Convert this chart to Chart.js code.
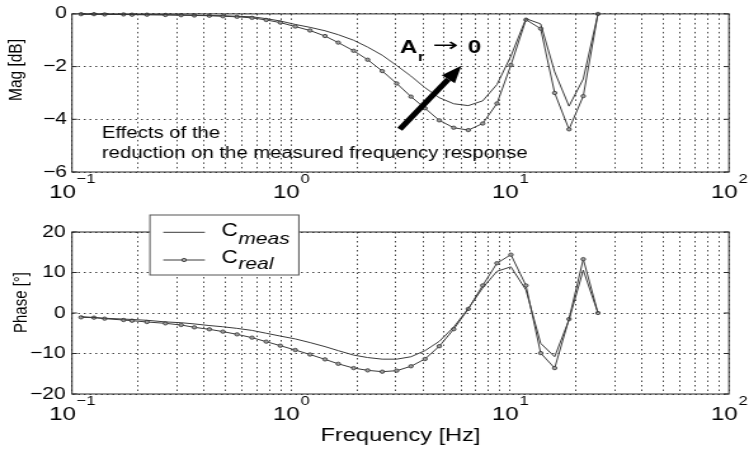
<!DOCTYPE html>
<html>
<head>
<meta charset="utf-8">
<title>Bode plot - C meas / C real</title>
<script src="https://cdn.jsdelivr.net/npm/chart.js@4"></script>
<style>
    html, body { margin: 0; padding: 0; background: #fff; overflow: hidden; }
    /* canvases are drawn narrower and stretched sideways, like the printed figure */
    .panel { position: absolute; left: 0; width: 749px !important; }
    #magChart { top: 0; height: 200px !important; }
    #phaseChart { top: 200px; height: 250px !important; }
</style>
</head>
<body>
<canvas id="magChart" class="panel" width="590" height="200"></canvas>
<canvas id="phaseChart" class="panel" width="590" height="250"></canvas>
<script>
// --- DATA ---
const freqHz = [0.110, 0.126, 0.141, 0.172, 0.188, 0.220, 0.267, 0.315, 0.362, 0.424,
                0.489, 0.567, 0.664, 0.771, 0.894, 1.046, 1.221, 1.430, 1.644, 1.933,
                2.240, 2.612, 3.039, 3.532, 4.092, 4.756, 5.535, 6.451, 7.506, 8.722,
                10.10, 11.83, 13.81, 16.00, 18.60, 21.61, 25.22];

const magMeas = [-0.01, -0.01, -0.01, -0.02, -0.02, -0.03, -0.03, -0.04, -0.05, -0.06,
                 -0.07, -0.09, -0.11, -0.18, -0.27, -0.40, -0.51, -0.64, -0.79, -1.00,
                 -1.26, -1.57, -1.96, -2.36, -2.80, -3.18, -3.41, -3.48, -3.30, -2.68,
                 -1.60, -0.18, -0.38, -2.20, -3.50, -2.47, 0];
const magReal = [-0.01, -0.01, -0.02, -0.02, -0.03, -0.03, -0.04, -0.05, -0.06, -0.07,
                 -0.09, -0.11, -0.15, -0.23, -0.33, -0.48, -0.63, -0.84, -1.09, -1.40,
                 -1.74, -2.17, -2.64, -3.14, -3.58, -4.04, -4.32, -4.41, -4.16, -3.40,
                 -1.94, -0.22, -0.56, -3.00, -4.38, -3.12, 0];

const phaseMeas = [-0.9, -1.1, -1.3, -1.5, -1.6, -1.8, -2.2, -2.4, -2.7, -3.1,
                   -3.4, -3.8, -4.3, -5.0, -5.7, -6.4, -7.3, -8.3, -9.3, -10.4,
                   -11.0, -11.4, -11.4, -10.8, -9.3, -7.0, -3.5, 1.1, 6.2, 10.3,
                   11.4, 5.7, -7.5, -10.8, -1.7, 10.6, 0];
const phaseReal = [-1.07, -1.15, -1.4, -1.73, -1.9, -2.22, -2.55, -2.96, -3.54, -4.03,
                   -4.6, -5.27, -6.09, -7.08, -8.07, -9.14, -10.25, -11.45, -12.55, -13.6,
                   -14.16, -14.49, -14.24, -13.15, -11.36, -8.2, -4.0, 1.0, 6.8, 12.3,
                   14.4, 6.8, -9.9, -13.6, -1.5, 13.3, 0];

const decades = [0.1, 1, 10, 100];
const gridSteps = [1, 2, 3, 4, 5, 6, 7, 8, 9];
const magTicks = [0, -2, -4, -6];
const phaseTicks = [20, 10, 0, -10, -20];

// --- HELPERS ---
const FONT = '"Liberation Sans", Arial, Helvetica, sans-serif';
const INK = '#000';
const LINE = '#3a3a3a';

// every 1..9 x 10^n line of the log grid, plus the last decade
const gridValues = decades.slice(0, -1)
    .flatMap(d => gridSteps.map(k => +(d * k).toPrecision(3)))
    .concat(decades[decades.length - 1]);

const minusLabel = v => (v < 0 ? '\u2212' + Math.abs(v) : String(v));
const points = (xs, ys) => xs.map((x, i) => ({ x, y: ys[i] }));

function seriesStyle(withMarkers) {
    return {
        borderColor: LINE,
        borderWidth: 1,
        tension: 0,
        clip: false,
        pointRadius: withMarkers ? 1.7 : 0,
        pointStyle: 'circle',
        pointBackgroundColor: '#a0a0a0',
        pointBorderColor: '#303030',
        pointBorderWidth: 0.8
    };
}

function freqAxis(height) {
    return {
        type: 'logarithmic',
        min: decades[0],
        max: decades[decades.length - 1],
        afterBuildTicks: s => { s.ticks = gridValues.map(v => ({ value: v })); },
        afterFit: s => { s.height = height; },
        ticks: { display: false },
        grid: { color: '#444', lineWidth: 1, drawTicks: false },
        border: { display: false, dash: [1.5, 3] }
    };
}

function valueAxis(tickList, padding) {
    return {
        type: 'linear',
        min: Math.min(...tickList),
        max: Math.max(...tickList),
        afterBuildTicks: s => { s.ticks = tickList.map(v => ({ value: v })); },
        afterFit: s => { s.width = 56.7; },
        ticks: {
            padding: padding,
            color: INK,
            font: { family: FONT, size: 16.5 },
            callback: v => minusLabel(v)
        },
        grid: { color: '#444', lineWidth: 1, drawTicks: false },
        border: { display: false, dash: [1.5, 3] }
    };
}

// axes box, inward y ticks and 10^n labels under the frequency axis
function drawFrame(chart, yTicks) {
    const { ctx, chartArea: ca, scales } = chart;
    ctx.save();
    ctx.strokeStyle = '#2a2a2a';
    ctx.lineWidth = 1;
    ctx.strokeRect(ca.left, ca.top, ca.right - ca.left, ca.bottom - ca.top);
    ctx.beginPath();
    yTicks.forEach(v => {
        const y = scales.y.getPixelForValue(v);
        ctx.moveTo(ca.left, y); ctx.lineTo(ca.left + 4, y);
        ctx.moveTo(ca.right, y); ctx.lineTo(ca.right - 4, y);
    });
    ctx.stroke();

    ctx.fillStyle = INK;
    ctx.textBaseline = 'alphabetic';
    ctx.textAlign = 'left';
    const baseY = ca.bottom + 26;
    decades.forEach(d => {
        const exp = Math.round(Math.log10(d));
        const expText = minusLabel(exp);
        ctx.font = '19px ' + FONT;
        const w1 = ctx.measureText('10').width;
        ctx.font = '13px ' + FONT;
        const w2 = ctx.measureText(expText).width;
        const x0 = scales.x.getPixelForValue(d) - (w1 + w2) / 2;
        ctx.font = '19px ' + FONT;
        ctx.fillText('10', x0, baseY);
        ctx.font = '13px ' + FONT;
        ctx.fillText(expText, x0 + w1 + 0.5, baseY - 15);
    });
    ctx.restore();
}

function drawYTitle(ctx, text, x, y, size) {
    ctx.save();
    ctx.translate(x, y);
    ctx.rotate(-Math.PI / 2);
    ctx.fillStyle = INK;
    ctx.textAlign = 'center';
    ctx.textBaseline = 'alphabetic';
    ctx.font = size + 'px ' + FONT;
    ctx.fillText(text, 0, 0);
    ctx.restore();
}

// --- MAGNITUDE ---
const magDecor = {
    id: 'magDecor',
    afterDraw(chart) {
        const { ctx, scales: { x, y } } = chart;
        drawFrame(chart, magTicks);
        drawYTitle(ctx, 'Mag [dB]', 16.8, 70, 15.5);

        ctx.save();
        ctx.fillStyle = INK;
        ctx.textAlign = 'left';
        ctx.textBaseline = 'alphabetic';
        ctx.font = '16px ' + FONT;
        ctx.fillText('Effects of the', x.getPixelForValue(0.137), y.getPixelForValue(-4.70));
        ctx.fillText('reduction on the measured frequency response',
                     x.getPixelForValue(0.137), y.getPixelForValue(-5.48));

        // A_r -> 0
        const ax = x.getPixelForValue(3.14), ay = y.getPixelForValue(-1.48);
        ctx.font = 'bold 19px ' + FONT;
        ctx.fillText('A', ax, ay);
        const aw = ctx.measureText('A').width;
        ctx.font = 'bold 13px ' + FONT;
        ctx.fillText('r', ax + aw + 0.5, ay + 8);
        ctx.save();
        ctx.translate(x.getPixelForValue(4.43), y.getPixelForValue(-1.22));
        ctx.scale(1.35, 1);
        ctx.font = '18px "DejaVu Sans", ' + FONT;
        ctx.textBaseline = 'middle';
        ctx.fillText('\u2192', 0, 0);
        ctx.restore();
        ctx.font = 'bold 19px ' + FONT;
        ctx.fillText('0', x.getPixelForValue(6.42), ay);

        // thick arrow towards the reduced curve
        const x0 = x.getPixelForValue(3.14), y0 = y.getPixelForValue(-4.38);
        const x1 = x.getPixelForValue(6.0), y1 = y.getPixelForValue(-1.97);
        const ang = Math.atan2(y1 - y0, x1 - x0);
        const head = 17, half = 6.5;
        const bx = x1 - head * Math.cos(ang), by = y1 - head * Math.sin(ang);
        ctx.strokeStyle = '#000';
        ctx.lineWidth = 5;
        ctx.beginPath();
        ctx.moveTo(x0, y0);
        ctx.lineTo(bx, by);
        ctx.stroke();
        ctx.beginPath();
        ctx.moveTo(x1, y1);
        ctx.lineTo(bx + half * Math.sin(ang), by - half * Math.cos(ang));
        ctx.lineTo(bx - half * Math.sin(ang), by + half * Math.cos(ang));
        ctx.closePath();
        ctx.fillStyle = '#000';
        ctx.fill();
        ctx.restore();
    }
};

new Chart(document.getElementById('magChart'), {
    type: 'line',
    data: {
        datasets: [
            { label: 'C meas', data: points(freqHz, magMeas), ...seriesStyle(false) },
            { label: 'C real', data: points(freqHz, magReal), ...seriesStyle(true) }
        ]
    },
    options: {
        responsive: false,
        devicePixelRatio: 1,
        animation: false,
        events: [],
        layout: { autoPadding: false, padding: { left: 0, top: 10, right: 15.8, bottom: 0 } },
        scales: { x: freqAxis(28), y: valueAxis(magTicks, 4) },
        plugins: { legend: { display: false }, tooltip: { enabled: false } }
    },
    plugins: [magDecor]
});

// --- PHASE ---
const phaseDecor = {
    id: 'phaseDecor',
    afterDraw(chart) {
        const { ctx, chartArea: ca } = chart;
        drawFrame(chart, phaseTicks);
        drawYTitle(ctx, 'Phase [\u00b0]', 21, 102.5, 15);

        ctx.save();
        ctx.fillStyle = INK;
        ctx.textAlign = 'center';
        ctx.textBaseline = 'alphabetic';
        ctx.font = '18.6px ' + FONT;
        ctx.fillText('Frequency [Hz]', (ca.left + ca.right) / 2, 240.7);

        // legend box
        const bx = 118.1, by = 15, bw = 117.3, bh = 60;
        ctx.fillStyle = '#fff';
        ctx.fillRect(bx, by, bw, bh);
        ctx.strokeStyle = '#555';
        ctx.lineWidth = 1;
        ctx.strokeRect(bx, by, bw, bh);

        const rows = [
            { sub: 'meas', lineY: 32.3, cY: 36, subY: 44, marker: false },
            { sub: 'real', lineY: 60, cY: 63.3, subY: 68.5, marker: true }
        ];
        rows.forEach(r => {
            ctx.strokeStyle = LINE;
            ctx.beginPath();
            ctx.moveTo(128.6, r.lineY);
            ctx.lineTo(161.4, r.lineY);
            ctx.stroke();
            if (r.marker) {
                ctx.beginPath();
                ctx.arc(145, r.lineY, 1.7, 0, Math.PI * 2);
                ctx.fillStyle = '#a0a0a0';
                ctx.fill();
                ctx.lineWidth = 0.8;
                ctx.strokeStyle = '#303030';
                ctx.stroke();
                ctx.lineWidth = 1;
            }
            ctx.fillStyle = INK;
            ctx.textAlign = 'left';
            ctx.font = '17.7px ' + FONT;
            ctx.fillText('C', 174.6, r.cY);
            const cw = ctx.measureText('C').width;
            ctx.font = 'italic 16.5px ' + FONT;
            ctx.fillText(r.sub, 174.6 + cw + 0.5, r.subY);
        });
        ctx.restore();
    }
};

new Chart(document.getElementById('phaseChart'), {
    type: 'line',
    data: {
        datasets: [
            { label: 'C meas', data: points(freqHz, phaseMeas), ...seriesStyle(false) },
            { label: 'C real', data: points(freqHz, phaseReal), ...seriesStyle(true) }
        ]
    },
    options: {
        responsive: false,
        devicePixelRatio: 1,
        animation: false,
        events: [],
        layout: { autoPadding: false, padding: { left: 0, top: 32, right: 15.8, bottom: 0 } },
        scales: { x: freqAxis(56), y: valueAxis(phaseTicks, 5) },
        plugins: { legend: { display: false }, tooltip: { enabled: false } }
    },
    plugins: [phaseDecor]
});
</script>
</body>
</html>
